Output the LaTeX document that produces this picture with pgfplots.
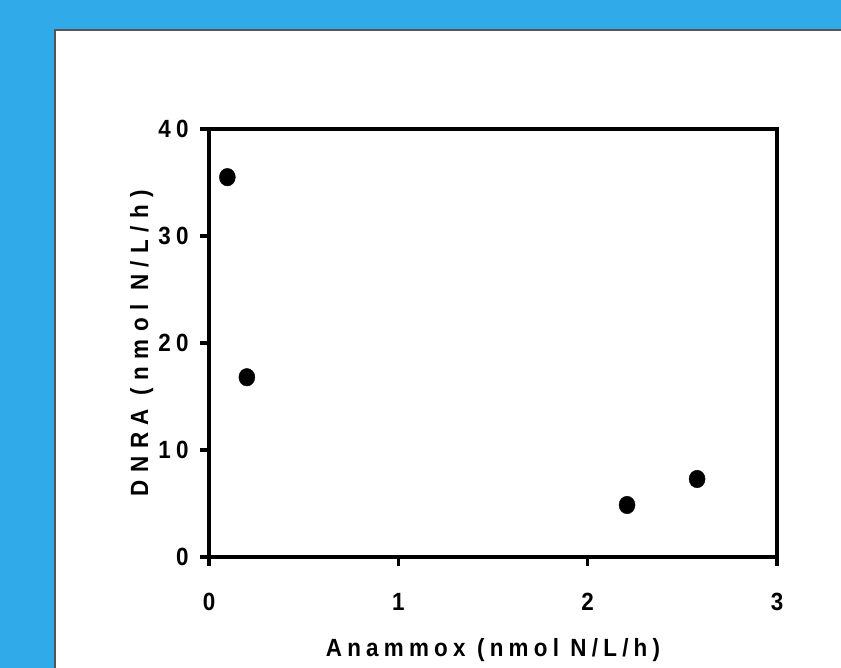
\documentclass[border=0pt]{standalone}
\usepackage{fontspec}
\newfontfamily\lab[LetterSpace=21,FakeStretch=0.9]{Liberation Sans}
\newfontfamily\ylab[LetterSpace=30,FakeStretch=0.9]{Liberation Sans}
\usepackage{pgfplots}
\pgfplotsset{compat=1.18}
\definecolor{bgblue}{RGB}{48,170,232}
\definecolor{bordergray}{RGB}{85,85,85}
\begin{document}
\begin{tikzpicture}
\useasboundingbox (0,0) rectangle (841bp,668bp);
\fill[bgblue] (0,0) rectangle (841bp,668bp);
\fill[white] (54bp,0) rectangle (841bp,639bp);
\draw[bordergray, line width=2bp] (55bp,0) -- (55bp,638bp) -- (841bp,638bp);
\begin{axis}[
  at={(209bp,111bp)}, anchor=south west,
  scale only axis, width=568bp, height=428bp,
  xmin=0, xmax=3, ymin=0, ymax=40,
  xtick={0,1,2,3}, ytick={0,10,20,30,40},
  axis line style={line width=3.5bp, black},
  tick style={line width=3.5bp, black},
  major tick length=9bp, tick align=outside,
  xtick pos=bottom, ytick pos=left,
  /pgf/number format/assume math mode=true,
  ticklabel style={font=\fontsize{25}{29}\selectfont\lab\bfseries},
  yticklabel style={xshift=-8bp},
  xticklabel style={yshift=-24bp},
  xlabel style={font=\fontsize{25}{29}\selectfont\lab\bfseries},
  ylabel style={font=\fontsize{25}{29}\selectfont\ylab\bfseries},
  xlabel={Anammox (nmol N/L/h)},
  ylabel={DNRA (nmol N/L/h)},
  xlabel style={at={(axis description cs:0.5,-0.2336)}, anchor=base},
  ylabel style={at={(axis description cs:-0.107,0.5)}, anchor=base},
  clip=false,
]
\addplot[only marks, mark=*, mark size=8bp, mark options={yscale=1.1, black, fill=black}] coordinates {
  (0.097,35.5) (0.20,16.8) (2.208,4.86) (2.578,7.29)
};
\end{axis}
\end{tikzpicture}
\end{document}
